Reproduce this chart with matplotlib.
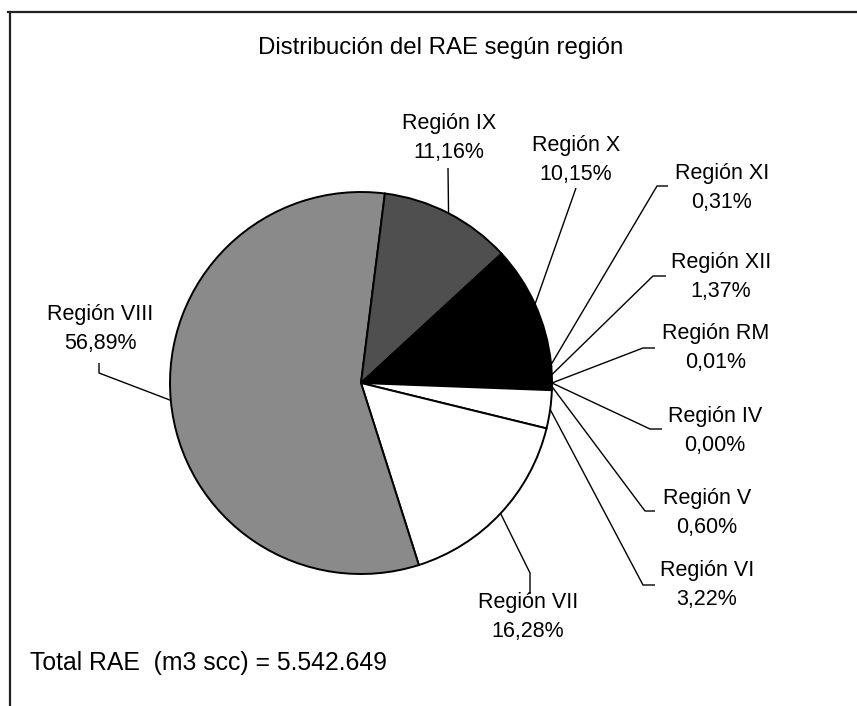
import matplotlib
matplotlib.use("Agg")
import matplotlib.pyplot as plt
import numpy as np

# ---- data ----
regions = ["Región IV", "Región V", "Región VI", "Región VII", "Región VIII",
           "Región IX", "Región X", "Región XI", "Región XII", "Región RM"]
shares = [0.00, 0.60, 3.22, 16.28, 56.89, 11.16, 10.15, 0.31, 1.37, 0.01]
share_labels = ["0,00%", "0,60%", "3,22%", "16,28%", "56,89%",
                "11,16%", "10,15%", "0,31%", "1,37%", "0,01%"]
title = "Distribución del RAE según región"
total_text = "Total RAE  (m3 scc) = 5.542.649"

# ---- style / layout ----
colors = ["#000000", "#000000", "#ffffff", "#ffffff", "#8a8a8a",
          "#4f4f4f", "#000000", "#000000", "#000000", "#000000"]
W, H = 857, 706
cx, cy, R = 361, 383, 191          # pixel centre / radius (image coords)
# label centre (image coords) and leader elbow points (from label towards pie)
label_pos = [(715, 431), (707, 513), (707, 585), (528, 617), (100, 329),
             (449, 138), (576, 160), (722, 188), (721, 277), (716, 348)]
leader_pts = [[(662, 429), (650, 429)],
              [(655, 511), (645, 511)],
              [(655, 585), (643, 585)],
              [(530, 594), (530, 573)],
              [(99, 363), (99, 373)],
              [(448, 168)],
              [(576, 188)],
              [(668, 186), (657, 186)],
              [(666, 276), (653, 276)],
              [(655, 348), (643, 348)]]

FONT = ["Liberation Sans", "DejaVu Sans"]

fig = plt.figure(figsize=(W / 100, H / 100), dpi=100)
fig.patch.set_facecolor("white")
ax = fig.add_axes([0, 0, 1, 1])

wedges, _ = ax.pie(shares, center=(cx, H - cy), radius=R, startangle=0,
                   counterclock=False, colors=colors,
                   wedgeprops=dict(edgecolor="black", linewidth=1.4))
ax.set_xlim(0, W)
ax.set_ylim(0, H)
ax.set_aspect("auto")
ax.axis("off")

for w, name, pct, (lx, ly), pts in zip(wedges, regions, share_labels,
                                        label_pos, leader_pts):
    mid = np.deg2rad((w.theta1 + w.theta2) / 2)
    ex = w.center[0] + w.r * np.cos(mid)
    ey = w.center[1] + w.r * np.sin(mid)
    xs = [p[0] for p in pts] + [ex]
    ys = [H - p[1] for p in pts] + [ey]
    ax.plot(xs, ys, color="black", linewidth=1.0, solid_capstyle="butt")
    ax.text(lx, H - ly, f"{name}\n{pct}", ha="center", va="center",
            fontsize=15.5, linespacing=1.5, family=FONT, color="black")

ax.text(441, H - 48, title, ha="center", va="center", fontsize=17.3,
        family=FONT, color="black")
ax.text(30, H - 663, total_text, ha="left", va="center", fontsize=17.8,
        family=FONT, color="black")

# chart frame (top and left borders visible)
ax.plot([8, W], [H - 12, H - 12], color="#222222", linewidth=1.6)
ax.plot([10, 10], [H - 12, 0], color="#222222", linewidth=1.6)

fig.savefig("out.png", dpi=100, facecolor="white")
